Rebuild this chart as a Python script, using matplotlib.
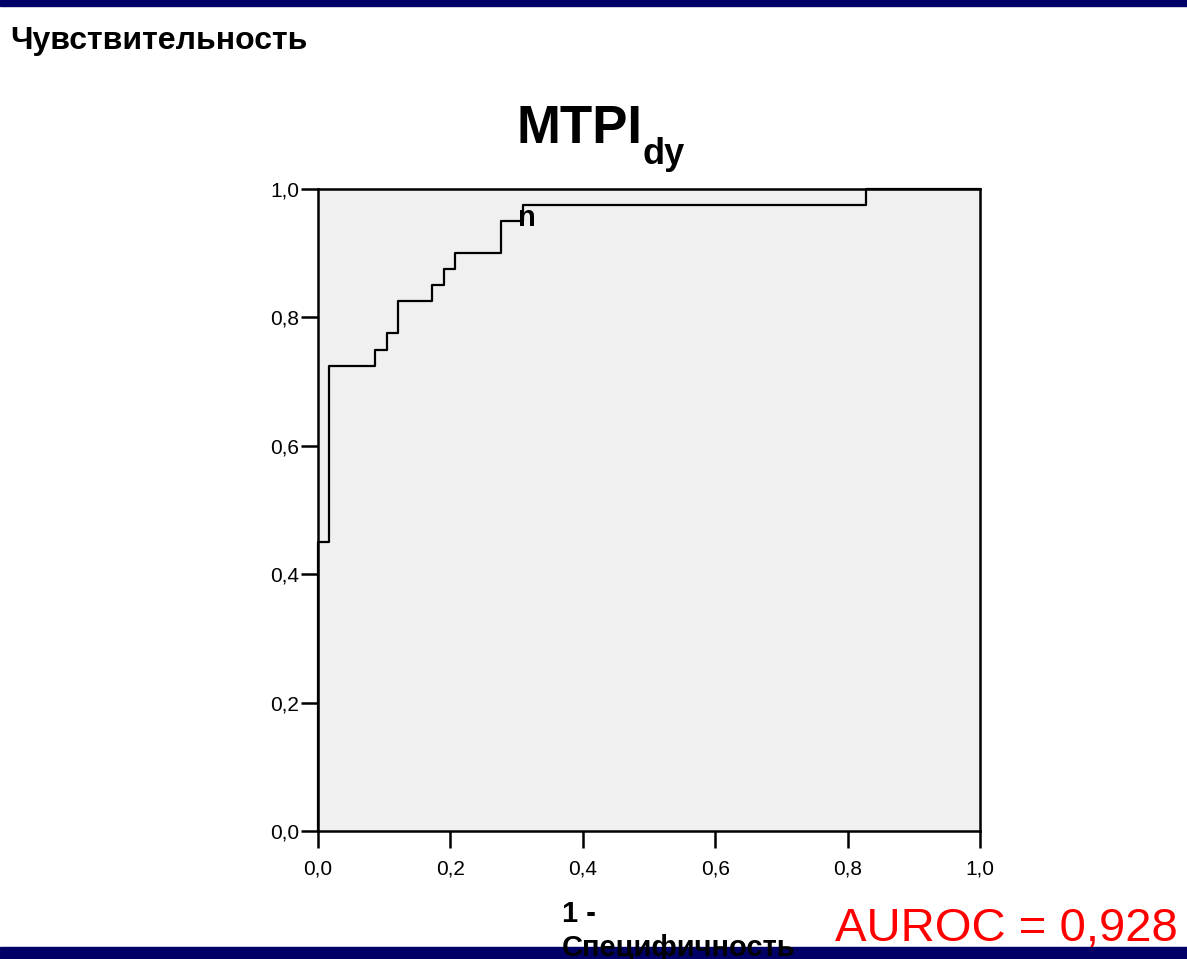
import matplotlib
matplotlib.use("Agg")
import matplotlib.pyplot as plt
from matplotlib.patches import Rectangle

plt.rcParams['font.family'] = ['Liberation Sans', 'DejaVu Sans']

# ROC curve (1 - specificity, sensitivity)
fpr = [0.0, 0.0, 0.017, 0.017, 0.086, 0.086, 0.104, 0.104, 0.121, 0.121,
       0.172, 0.172, 0.190, 0.190, 0.207, 0.207, 0.276, 0.276, 0.310, 0.310,
       0.828, 0.828, 1.0]
tpr = [0.0, 0.45, 0.45, 0.725, 0.725, 0.75, 0.75, 0.775, 0.775, 0.825,
       0.825, 0.85, 0.85, 0.875, 0.875, 0.90, 0.90, 0.95, 0.95, 0.975,
       0.975, 1.0, 1.0]
ticks = [0.0, 0.2, 0.4, 0.6, 0.8, 1.0]
tick_labels = ['0,0', '0,2', '0,4', '0,6', '0,8', '1,0']
auroc_text = 'AUROC = 0,928'

W, H = 1187, 959
fig = plt.figure(figsize=(W / 100, H / 100), dpi=100)
fig.patch.set_facecolor('white')

navy = '#000066'
fig.patches.append(Rectangle((0, 1 - 6 / H), 1, 6 / H, transform=fig.transFigure,
                             color=navy, zorder=0))
fig.patches.append(Rectangle((0, 0), 1, 12 / H, transform=fig.transFigure,
                             color=navy, zorder=0))

ax = fig.add_axes([318 / W, 1 - 831 / H, 662 / W, 642 / H])
ax.set_facecolor('#f0f0f0')
ax.plot(fpr, tpr, color='black', lw=1.6, clip_on=False, zorder=3)
ax.set_xlim(0, 1)
ax.set_ylim(0, 1)
ax.set_xticks(ticks)
ax.set_xticklabels(tick_labels)
ax.set_yticks(ticks)
ax.set_yticklabels(tick_labels)
ax.tick_params(direction='out', length=12.5, width=1.8, labelsize=15,
               colors='black')
ax.tick_params(axis='x', pad=8)
ax.tick_params(axis='y', pad=1)
for s in ax.spines.values():
    s.set_linewidth(1.8)

ax.text(0.316, 0.955, 'n', fontsize=21, fontweight='bold', ha='center', va='center')

fig.text(10 / W, 1 - 49 / H, 'Чувствительность', fontsize=23, fontweight='bold',
         ha='left', va='baseline')
fig.text(517 / W, 1 - 143 / H, 'MTPI', fontsize=38, fontweight='bold',
         ha='left', va='baseline')
fig.text(643 / W, 1 - 164 / H, 'dy', fontsize=26, fontweight='bold',
         ha='left', va='baseline')
fig.text(562 / W, 1 - 922 / H, '1 -', fontsize=21, fontweight='bold',
         ha='left', va='baseline', zorder=5)
fig.text(562 / W, 1 - 956 / H, 'Специфичность', fontsize=21, fontweight='bold',
         ha='left', va='baseline', zorder=5)
fig.text(1178 / W, 1 - 941 / H, auroc_text, fontsize=34, color='red',
         ha='right', va='baseline')

fig.savefig('out.png', dpi=100)
